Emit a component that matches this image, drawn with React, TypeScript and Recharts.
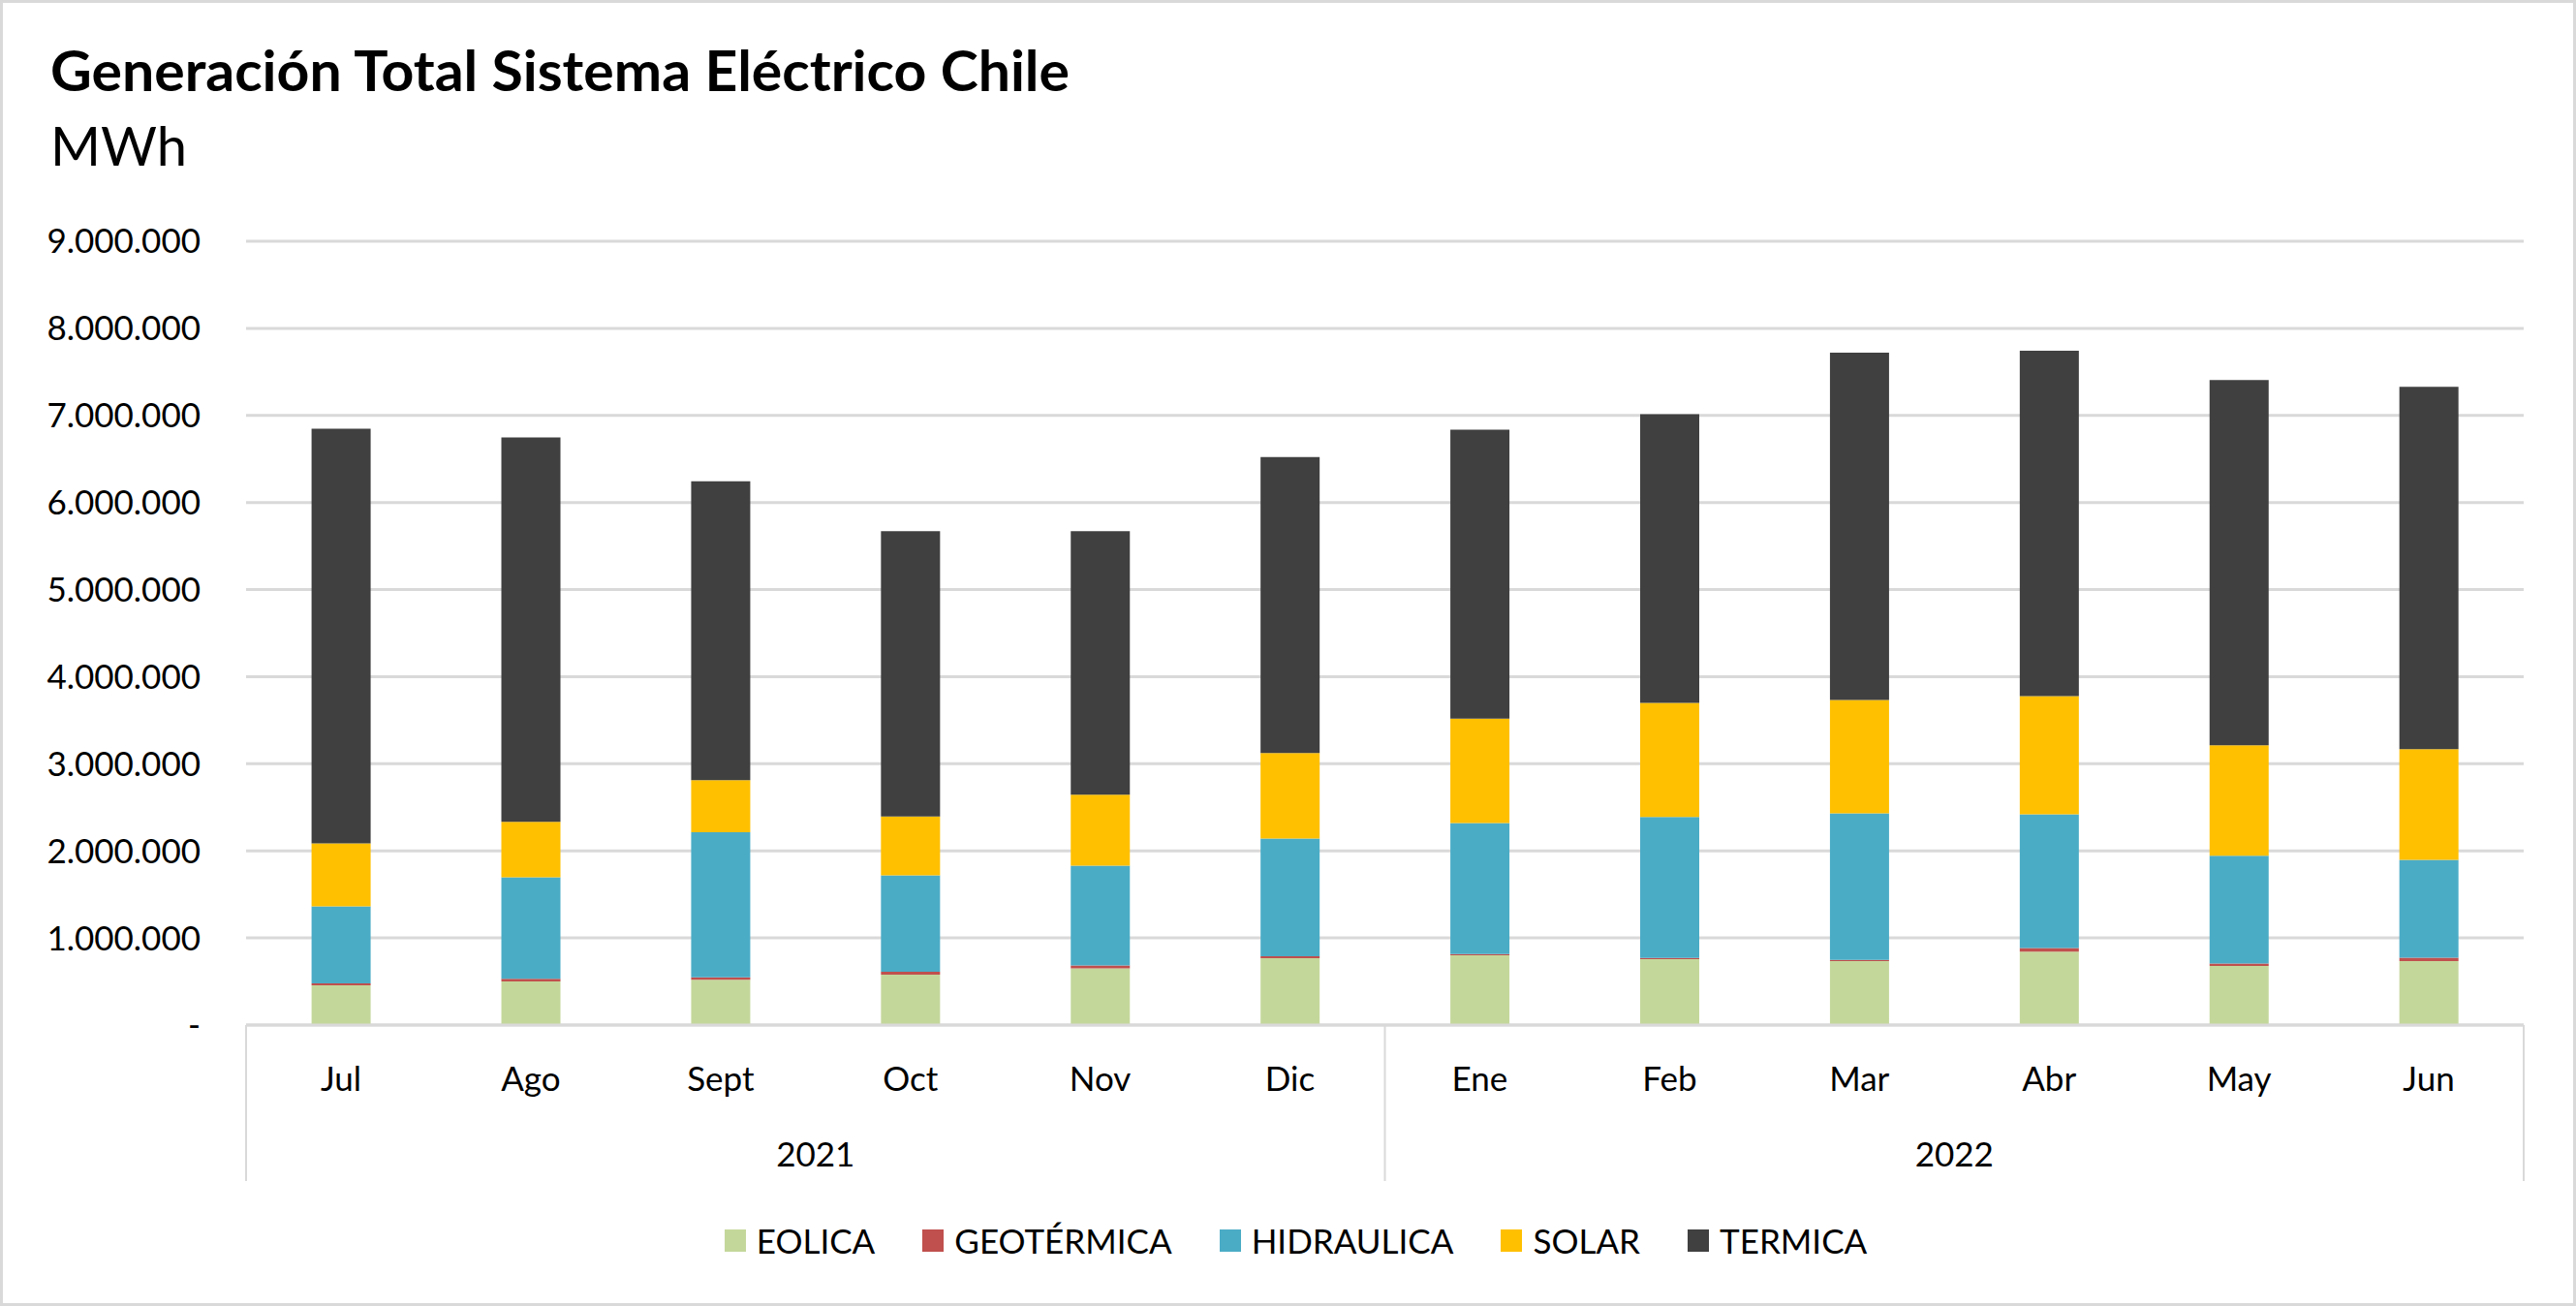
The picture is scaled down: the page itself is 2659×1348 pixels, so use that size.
import React from 'react';
import { BarChart, Bar, XAxis, YAxis, CartesianGrid, ReferenceLine } from 'recharts';

// ---- data (MWh) ----
const months = ['Jul', 'Ago', 'Sept', 'Oct', 'Nov', 'Dic', 'Ene', 'Feb', 'Mar', 'Abr', 'May', 'Jun'];
const years = ['2021', '2021', '2021', '2021', '2021', '2021', '2022', '2022', '2022', '2022', '2022', '2022'];
const eolica = [456000, 500000, 519000, 578000, 652000, 767000, 800000, 756000, 733000, 844000, 678000, 733000];
const geotermica = [22000, 30000, 29000, 33000, 33000, 22000, 15000, 14000, 15000, 41000, 29000, 41000];
const hidraulica = [885000, 1166000, 1667000, 1108000, 1145000, 1352000, 1504000, 1619000, 1682000, 1534000, 1237000, 1122000];
const solar = [722000, 637000, 596000, 677000, 814000, 981000, 1200000, 1311000, 1303000, 1359000, 1267000, 1271000];
const termica = [4762000, 4413000, 3432000, 3276000, 3028000, 3400000, 3317000, 3315000, 3987000, 3965000, 4196000, 4161000];
const yTicks = [0, 1000000, 2000000, 3000000, 4000000, 5000000, 6000000, 7000000, 8000000, 9000000];

const yearGroups = [
  { year: '2021', first: 'Jul', middle: 'Sept', last: 'Dic' },
  { year: '2022', first: 'Ene', middle: 'Mar', last: 'Jun' },
];

const series = [
  { key: 'EOLICA', color: '#C4D79B', values: eolica },
  { key: 'GEOTÉRMICA', color: '#C0504D', values: geotermica },
  { key: 'HIDRAULICA', color: '#4BACC6', values: hidraulica },
  { key: 'SOLAR', color: '#FFC000', values: solar },
  { key: 'TERMICA', color: '#404040', values: termica },
];

const data = months.map((m, i) => {
  const row: Record<string, string | number> = { month: m, year: years[i] };
  series.forEach((s) => {
    row[s.key] = s.values[i];
  });
  return row;
});

const FONT = 'Lato, "Open Sans", sans-serif';
const GRID = '#D9D9D9';

const fmt = (v: number) => (v === 0 ? '-' : String(Math.round(v)).replace(/\B(?=(\d{3})+(?!\d))/g, '.'));

const MonthTick = (props: any) => {
  const { x, y, payload } = props;
  return (
    <text x={x} y={y + 66} textAnchor="middle" fontFamily={FONT} fontSize={35} fill="#000">
      {payload.value}
    </text>
  );
};

const separatorShape = (props: any) => {
  const bottom = Math.max(props.y1, props.y2);
  return <line x1={props.x1} x2={props.x1} y1={bottom} y2={bottom + 161} stroke={GRID} strokeWidth={2} />;
};

const yearShape = (label: string) => (props: any) => {
  const bottom = Math.max(props.y1, props.y2);
  return (
    <text x={props.x1} y={bottom + 146} textAnchor="middle" fontFamily={FONT} fontSize={35} fill="#000">
      {label}
    </text>
  );
};

export default function App() {
  return (
    <div style={{ position: 'absolute', left: 0, top: 0, width: 2659, height: 1348, background: '#fff' }}>
      <BarChart
        width={2659}
        height={1348}
        data={data}
        margin={{ top: 249, right: 54, left: 0, bottom: 130 }}
        barCategoryGap="34.5%"
      >
        <CartesianGrid vertical={false} stroke={GRID} strokeWidth={3} />
        <XAxis
          dataKey="month"
          interval={0}
          tickLine={false}
          tickSize={0}
          axisLine={{ stroke: GRID, strokeWidth: 3 }}
          tick={<MonthTick />}
          height={160}
        />
        <YAxis
          domain={[0, 9000000]}
          ticks={yTicks}
          interval={0}
          width={254}
          axisLine={false}
          tickLine={false}
          tickSize={0}
          tickMargin={47}
          tickFormatter={fmt}
          tick={{ fontFamily: FONT, fontSize: 35, fill: '#000' }}
        />
        {series.map((s) => (
          <Bar key={s.key} dataKey={s.key} stackId="a" fill={s.color} isAnimationActive={false} />
        ))}
        {yearGroups.map((g) => (
          <ReferenceLine key={g.year + 's'} x={g.first} position="start" ifOverflow="visible" shape={separatorShape} />
        ))}
        <ReferenceLine x={yearGroups[yearGroups.length - 1].last} position="end" ifOverflow="visible" shape={separatorShape} />
        {yearGroups.map((g) => (
          <ReferenceLine key={g.year + 'y'} x={g.middle} position="end" ifOverflow="visible" shape={yearShape(g.year)} />
        ))}
      </BarChart>

      <div
        style={{
          position: 'absolute',
          left: 0,
          top: 1260,
          width: 2659,
          height: 40,
          paddingLeft: 16,
          boxSizing: 'border-box',
          display: 'flex',
          justifyContent: 'center',
          alignItems: 'center',
          fontFamily: FONT,
          fontSize: 35,
          lineHeight: 1,
          color: '#000',
        }}
      >
        {series.map((s, i) => (
          <div key={s.key} style={{ display: 'flex', alignItems: 'center', marginLeft: i === 0 ? 0 : 49 }}>
            <div style={{ width: 22, height: 23, background: s.color, marginRight: 11 }} />
            <span>{s.key}</span>
          </div>
        ))}
      </div>

      <svg
        width={2659}
        height={1348}
        style={{ position: 'absolute', left: 0, top: 0, pointerEvents: 'none' }}
      >
        <text
          x={52}
          y={94}
          fontFamily={FONT}
          fontWeight={700}
          fontSize={57}
          fill="#000"
          textLength={1052}
          lengthAdjust="spacingAndGlyphs"
        >
          Generación Total Sistema Eléctrico Chile
        </text>
        <text x={52} y={171} fontFamily={FONT} fontSize={56} fill="#000">
          MWh
        </text>
        <rect x={1.5} y={1.5} width={2656} height={1345} fill="none" stroke={GRID} strokeWidth={3} />
      </svg>
    </div>
  );
}
